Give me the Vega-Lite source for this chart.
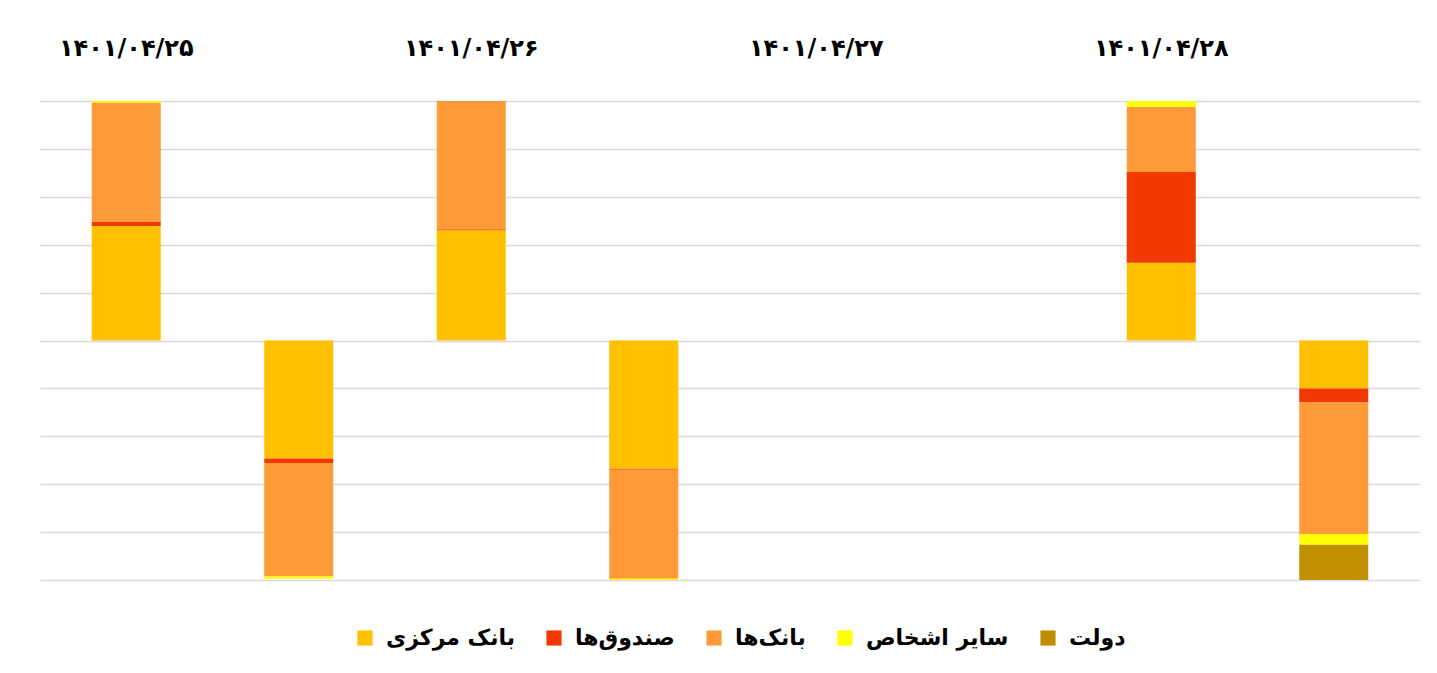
{
  "$schema": "https://vega.github.io/schema/vega-lite/v6.json",
  "autosize": "none",
  "width": 1380,
  "height": 479,
  "padding": {"left": 40, "top": 101, "right": 17, "bottom": 93},
  "background": "white",
  "config": {
    "view": {"stroke": null},
    "font": "DejaVu Sans"
  },
  "data": {
    "values": [
      {"slot": "۱۴۰۱/۰۴/۲۵|1", "group": "بانک مرکزی", "ord": 1, "value": 47.8},
      {"slot": "۱۴۰۱/۰۴/۲۵|1", "group": "صندوق‌ها", "ord": 2, "value": 1.9},
      {"slot": "۱۴۰۱/۰۴/۲۵|1", "group": "بانک‌ها", "ord": 3, "value": 49.7},
      {"slot": "۱۴۰۱/۰۴/۲۵|1", "group": "سایر اشخاص", "ord": 4, "value": 0.6},
      {"slot": "۱۴۰۱/۰۴/۲۵|2", "group": "بانک مرکزی", "ord": 1, "value": -49.3},
      {"slot": "۱۴۰۱/۰۴/۲۵|2", "group": "صندوق‌ها", "ord": 2, "value": -1.9},
      {"slot": "۱۴۰۱/۰۴/۲۵|2", "group": "بانک‌ها", "ord": 3, "value": -47.3},
      {"slot": "۱۴۰۱/۰۴/۲۵|2", "group": "سایر اشخاص", "ord": 4, "value": -1.0},
      {"slot": "۱۴۰۱/۰۴/۲۶|1", "group": "بانک مرکزی", "ord": 1, "value": 46.0},
      {"slot": "۱۴۰۱/۰۴/۲۶|1", "group": "صندوق‌ها", "ord": 2, "value": 0.4},
      {"slot": "۱۴۰۱/۰۴/۲۶|1", "group": "بانک‌ها", "ord": 3, "value": 53.6},
      {"slot": "۱۴۰۱/۰۴/۲۶|2", "group": "بانک مرکزی", "ord": 1, "value": -53.6},
      {"slot": "۱۴۰۱/۰۴/۲۶|2", "group": "صندوق‌ها", "ord": 2, "value": -0.4},
      {"slot": "۱۴۰۱/۰۴/۲۶|2", "group": "بانک‌ها", "ord": 3, "value": -45.5},
      {"slot": "۱۴۰۱/۰۴/۲۶|2", "group": "سایر اشخاص", "ord": 4, "value": -0.5},
      {"slot": "۱۴۰۱/۰۴/۲۸|1", "group": "بانک مرکزی", "ord": 1, "value": 32.5},
      {"slot": "۱۴۰۱/۰۴/۲۸|1", "group": "صندوق‌ها", "ord": 2, "value": 37.9},
      {"slot": "۱۴۰۱/۰۴/۲۸|1", "group": "بانک‌ها", "ord": 3, "value": 27.2},
      {"slot": "۱۴۰۱/۰۴/۲۸|1", "group": "سایر اشخاص", "ord": 4, "value": 2.4},
      {"slot": "۱۴۰۱/۰۴/۲۸|2", "group": "بانک مرکزی", "ord": 1, "value": -20.0},
      {"slot": "۱۴۰۱/۰۴/۲۸|2", "group": "صندوق‌ها", "ord": 2, "value": -5.9},
      {"slot": "۱۴۰۱/۰۴/۲۸|2", "group": "بانک‌ها", "ord": 3, "value": -54.9},
      {"slot": "۱۴۰۱/۰۴/۲۸|2", "group": "سایر اشخاص", "ord": 4, "value": -4.5},
      {"slot": "۱۴۰۱/۰۴/۲۸|2", "group": "دولت", "ord": 5, "value": -14.7}
    ]
  },
  "mark": {"type": "bar"},
  "encoding": {
    "x": {
      "field": "slot",
      "type": "nominal",
      "sort": null,
      "scale": {
        "domain": ["۱۴۰۱/۰۴/۲۵|1", "۱۴۰۱/۰۴/۲۵|2", "۱۴۰۱/۰۴/۲۶|1", "۱۴۰۱/۰۴/۲۶|2", "۱۴۰۱/۰۴/۲۷|1", "۱۴۰۱/۰۴/۲۷|2", "۱۴۰۱/۰۴/۲۸|1", "۱۴۰۱/۰۴/۲۸|2"],
        "paddingInner": 0.6,
        "paddingOuter": 0.3
      },
      "axis": {
        "orient": "top",
        "title": null,
        "domain": false,
        "ticks": false,
        "grid": false,
        "labelAngle": 0,
        "labelExpr": "split(datum.value, '|')[1] == '1' ? split(datum.value, '|')[0] : ''",
        "labelFont": "DejaVu Sans",
        "labelFontWeight": "bold",
        "labelFontSize": 24,
        "labelColor": "#000000",
        "labelPadding": 41
      }
    },
    "y": {
      "field": "value",
      "type": "quantitative",
      "stack": "zero",
      "scale": {"domain": [-100, 100], "nice": false},
      "axis": {
        "title": null,
        "labels": false,
        "ticks": false,
        "domain": false,
        "grid": true,
        "values": [-100, -80, -60, -40, -20, 0, 20, 40, 60, 80, 100],
        "gridColor": "#d9d9d9",
        "gridWidth": 1.5
      }
    },
    "color": {
      "field": "group",
      "type": "nominal",
      "scale": {
        "domain": ["بانک مرکزی", "صندوق‌ها", "بانک‌ها", "سایر اشخاص", "دولت"],
        "range": ["#FFC000", "#F23A00", "#FF9A38", "#FFFF00", "#BF8F00"]
      },
      "legend": {
        "title": null,
        "orient": "none",
        "legendX": 314,
        "legendY": 526,
        "direction": "horizontal",
        "symbolType": "square",
        "symbolSize": 230,
        "symbolStrokeWidth": 0,
        "labelFont": "DejaVu Sans",
        "labelFontWeight": "bold",
        "labelFontSize": 22,
        "labelColor": "#000000",
        "labelOffset": 10,
        "columnPadding": 28,
        "labelLimit": 300
      }
    },
    "order": {"field": "ord", "type": "quantitative"}
  }
}
